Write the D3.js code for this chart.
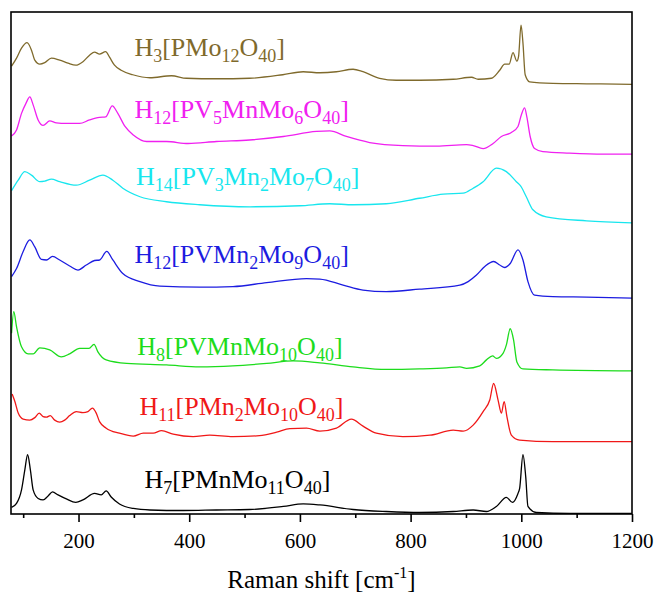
<!DOCTYPE html>
<html>
<head>
<meta charset="utf-8">
<script src="https://cdn.jsdelivr.net/npm/d3@7"></script>
<style>
  body { margin: 0; background: #fff; }
</style>
</head>
<body>
<script>
"use strict";

// Raman spectra, stacked (x = Raman shift in cm-1, y = intensity a.u. incl. offset)
var h3PMo12 = [[79,89.2],[88,90.8],[97,92.8],[107,93.9],[115,92.4],[121,90.4],[130,89.6],[139,89.9],[151,90.8],[166,90.4],[181,89.8],[195,89.4],[208,90.1],[220,91.4],[229,92.0],[238,91.6],[249,92.1],[256,91.0],[265,89.4],[277,88.4],[298,87.5],[329,86.9],[368,87.3],[395,86.8],[449,86.7],[509,86.8],[569,87.5],[606,88.1],[636,87.9],[666,88.1],[696,88.6],[714,88.1],[744,86.8],[774,86.4],[816,86.4],[877,86.6],[910,87.0],[922,86.6],[946,86.8],[961,88.4],[970,89.6],[978,89.6],[985,91.9],[992,90.2],[995,91.1],[999.5,97.4],[1003,93.8],[1007,87.5],[1015,86.1],[1057,85.8],[1118,85.7],[1200,85.6]];

var h12PV5MnMo6 = [[79,75.3],[88,76.5],[97,79.8],[105,81.8],[112,83.1],[118,81.5],[127,78.5],[136,77.4],[148,78.3],[160,77.9],[178,77.8],[202,77.8],[220,78.5],[238,79.0],[249,79.1],[261,81.3],[271,79.8],[284,77.2],[299,75.5],[323,74.2],[359,74.2],[398,73.8],[449,74.2],[509,74.5],[570,75.2],[630,76.2],[654,76.3],[684,75.2],[726,74.0],[786,73.4],[847,73.3],[901,73.6],[913,73.4],[931,72.8],[949,73.8],[964,75.2],[982,76.0],[994,77.2],[1000,79.5],[1006,80.9],[1010,79.1],[1016,75.2],[1024,72.8],[1039,72.2],[1087,71.9],[1148,71.7],[1200,71.7]];

var h14PV3Mn2Mo7 = [[79,64.4],[91,66.5],[103,68.2],[115,67.5],[130,66.2],[139,66.3],[151,66.7],[166,66.2],[196,65.5],[220,66.5],[244,67.5],[262,66.5],[280,64.9],[311,63.2],[359,62.2],[419,61.6],[510,61.2],[600,61.4],[654,61.8],[696,61.6],[756,61.8],[816,62.9],[859,63.7],[895,63.9],[913,64.9],[931,66.2],[955,68.9],[973,68.2],[991,66.2],[999,65.3],[1009,63.2],[1021,60.6],[1045,59.2],[1118,58.4],[1200,58.0]];

var h12PVMn2Mo9 = [[79,47.3],[88,48.9],[100,52.3],[112,54.6],[121,53.2],[133,50.7],[142,50.6],[153,51.3],[166,50.6],[184,49.4],[199,48.6],[214,49.6],[229,50.5],[238,50.6],[251,52.3],[262,50.6],[280,47.9],[311,46.3],[347,45.4],[419,45.2],[479,45.3],[540,46.1],[612,46.9],[636,46.8],[678,45.6],[714,44.6],[756,44.3],[816,44.8],[889,45.6],[904,46.3],[919,47.6],[934,49.3],[950,50.3],[961,49.6],[970,49.1],[980,49.9],[994,52.6],[1003,50.6],[1012,46.3],[1024,43.6],[1057,43.3],[1118,43.2],[1200,43.0]];

var h8PVMnMo10 = [[79,36.0],[83,40.3],[88,37.3],[97,33.3],[109,31.9],[118,31.9],[130,33.1],[148,32.7],[169,31.3],[184,31.9],[202,33.0],[219,33.0],[228,33.8],[235,32.3],[250,30.7],[287,30.0],[359,29.7],[419,29.3],[479,29.5],[540,30.0],[588,30.5],[636,30.1],[696,29.3],[756,28.8],[816,28.9],[865,29.1],[889,29.3],[901,29.0],[925,29.5],[937,30.7],[948,31.5],[955,31.0],[967,32.0],[973,33.7],[980,36.9],[986,34.7],[992,30.3],[1003,28.9],[1057,28.7],[1200,28.5]];

var h11PMn2Mo10 = [[80,23.9],[85,22.4],[91,20.1],[100,18.9],[112,18.7],[121,19.2],[129,20.1],[136,19.4],[142,19.3],[149,19.6],[157,18.7],[166,18.3],[175,18.7],[184,19.6],[196,20.4],[208,20.2],[217,20.4],[225,21.1],[232,20.1],[238,18.4],[250,17.1],[274,16.1],[299,15.5],[317,16.1],[335,16.1],[350,16.6],[371,15.9],[407,15.4],[437,15.7],[479,15.4],[527,15.6],[558,16.3],[582,17.0],[612,17.1],[636,16.5],[666,17.1],[693,18.9],[714,17.5],[738,16.1],[786,15.4],[835,15.7],[877,16.7],[895,16.5],[913,17.7],[931,20.4],[943,22.7],[950,26.0],[958,22.7],[964,20.1],[969,22.4],[974,19.4],[982,15.7],[997,14.7],[1057,14.4],[1200,14.4]];

var h7PMnMo11 = [[79,1.3],[88,2.1],[97,4.8],[103,8.8],[108,11.8],[113,8.8],[118,4.8],[127,3.1],[136,2.8],[145,3.6],[153,4.4],[163,3.8],[178,3.0],[195,2.3],[208,2.8],[229,4.1],[241,3.8],[250,4.6],[259,3.4],[274,2.0],[299,1.1],[329,0.8],[389,0.7],[449,0.8],[509,0.9],[570,1.5],[606,2.0],[636,1.8],[696,0.9],[756,0.5],[816,0.3],[877,0.5],[913,0.8],[937,0.5],[955,1.5],[973,3.3],[984,2.3],[994,4.1],[997,5.1],[1003,11.8],[1008,7.4],[1012,1.5],[1027,0.3],[1088,0.1],[1200,0.1]];

// series names, {..} = subscript
var names = ["H{3}[PMo{12}O{40}]", "H{12}[PV{5}MnMo{6}O{40}]", "H{14}[PV{3}Mn{2}Mo{7}O{40}]",
             "H{12}[PVMn{2}Mo{9}O{40}]", "H{8}[PVMnMo{10}O{40}]", "H{11}[PMn{2}Mo{10}O{40}]",
             "H{7}[PMnMo{11}O{40}]"];
var spectra = [h3PMo12, h12PV5MnMo6, h14PV3Mn2Mo7, h12PVMn2Mo9, h8PVMnMo10, h11PMn2Mo10, h7PMnMo11];
var xTicks = [200, 400, 600, 800, 1000, 1200];
var xMinorTicks = [100, 300, 500, 700, 900, 1100];

// styling / label placement (data coords)
var colors = ["#7f6a2c", "#f020f0", "#18e6ee", "#1c1ce0", "#1cdc1c", "#f01818", "#000000"];
var labelAt = [[301, 91.2], [301, 78.9], [304, 65.5], [301, 50.0], [306, 31.7], [310, 19.7], [319, 5.2]];

var margin = {top: 12, right: 24, bottom: 82, left: 11},
    width = 656 - margin.left - margin.right,
    height = 596 - margin.top - margin.bottom;

var x = d3.scaleLinear().domain([78, 1200]).range([0, width]);
var y = d3.scaleLinear().domain([0, 100]).range([height, 0]);

var line = d3.line()
    .curve(d3.curveMonotoneX)
    .x(function(d) { return x(d[0]); })
    .y(function(d) { return y(d[1]); });

var svg = d3.select("body").append("svg")
    .attr("width", 656)
    .attr("height", 596)
  .append("g")
    .attr("transform", "translate(" + margin.left + "," + margin.top + ")");

svg.append("clipPath").attr("id", "clip")
  .append("rect").attr("width", width).attr("height", height);

// spectra
svg.append("g").attr("clip-path", "url(#clip)")
  .selectAll("path")
  .data(spectra)
  .enter().append("path")
    .attr("d", line)
    .attr("fill", "none")
    .attr("stroke", function(d, i) { return colors[i]; })
    .attr("stroke-width", 1.3);

// labels with subscripts
var font = '"Liberation Serif", "Times New Roman", serif';
names.forEach(function(name, i) {
  var t = svg.append("text")
      .attr("x", x(labelAt[i][0]))
      .attr("y", y(labelAt[i][1]))
      .attr("fill", colors[i])
      .style("font-family", font)
      .style("font-size", "26px");
  var parts = name.split(/(\{[^}]*\})/).filter(function(s) { return s.length; });
  var shifted = false;
  parts.forEach(function(p) {
    if (p[0] === "{") {
      t.append("tspan").attr("dy", shifted ? 0 : 6).style("font-size", "18px").text(p.slice(1, -1));
      shifted = true;
    } else {
      t.append("tspan").attr("dy", shifted ? -6 : 0).text(p);
      shifted = false;
    }
  });
});

// frame
svg.append("rect")
    .attr("width", width)
    .attr("height", height)
    .attr("fill", "none")
    .attr("stroke", "#000")
    .attr("stroke-width", 1.6);

// x axis, major + minor ticks outward
var xAxis = svg.append("g")
    .attr("transform", "translate(0," + height + ")")
    .call(d3.axisBottom(x).tickValues(xTicks).tickFormat(d3.format("d"))
      .tickSize(8).tickSizeOuter(0).tickPadding(11));
xAxis.select(".domain").remove();
xAxis.selectAll(".tick line").attr("stroke-width", 1.6);
xAxis.selectAll(".tick text")
    .style("font-family", font)
    .style("font-size", "21px")
    .attr("fill", "#000");

var xMinor = svg.append("g")
    .attr("transform", "translate(0," + height + ")")
    .call(d3.axisBottom(x).tickValues(xMinorTicks).tickSize(4).tickSizeOuter(0).tickFormat(""));
xMinor.select(".domain").remove();
xMinor.selectAll(".tick line").attr("stroke-width", 1.6);

// axis title
var title = svg.append("text")
    .attr("x", width / 2)
    .attr("y", height + 74)
    .attr("text-anchor", "middle")
    .style("font-family", font)
    .style("font-size", "25px")
    .text("Raman shift [cm");
title.append("tspan").attr("dy", -10).style("font-size", "16px").text("-1");
title.append("tspan").attr("dy", 10).text("]");
</script>
</body>
</html>
